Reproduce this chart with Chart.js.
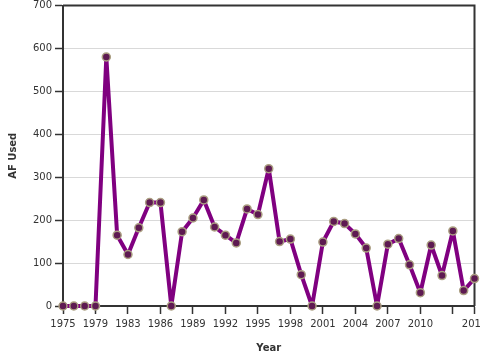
<!DOCTYPE html>
<html>
<head>
<meta charset="utf-8">
<style>
  html, body { margin: 0; padding: 0; background: #fff; overflow: hidden; }
  #wrap { width: 480px; height: 360px; }
</style>
<script src="https://cdn.jsdelivr.net/npm/chart.js@4"></script>
</head>
<body>
<div id="wrap"><canvas id="c" width="480" height="360"></canvas></div>
<script>
const years = [1975,1976,1977,1979,1980,1981,1983,1984,1985,1986,1987,1988,1989,1990,1991,1992,1993,1994,1995,1996,1997,1998,1999,2000,2001,2002,2003,2004,2005,2006,2007,2008,2009,2010,2011,2012,2013,2014,2015];
const afUsed = [0,0,0,0,580,165,120,182,241,241,0,173,205,247,184,165,147,226,213,320,150,156,73,0,149,197,192,168,135,0,144,157,96,31,142,71,175,36,64];
const xTickIdx = [0,3,6,9,12,15,18,21,24,27,30,33,36,38];
const hiddenTickIdx = [36];
const yTicks = [0,100,200,300,400,500,600,700];

const framePlugin = {
  id: 'frame',
  beforeDatasetsDraw(chart) {
    const a = chart.chartArea, ctx = chart.ctx;
    ctx.save();
    ctx.strokeStyle = '#333';
    ctx.lineWidth = 2;
    ctx.beginPath();
    ctx.moveTo(a.left, a.top);
    ctx.lineTo(a.right, a.top);
    ctx.lineTo(a.right, a.bottom);
    ctx.stroke();
    ctx.restore();
  }
};

new Chart(document.getElementById('c'), {
  type: 'line',
  data: {
    datasets: [{
      data: afUsed.map((v, i) => ({ x: i, y: v })),
      borderColor: '#800080',
      borderWidth: 4,
      borderJoinStyle: 'round',
      borderCapStyle: 'round',
      pointRadius: 4,
      pointBorderWidth: 1.5,
      pointBackgroundColor: '#5e1a52',
      pointBorderColor: '#ab9f82',
      tension: 0,
      clip: false
    }]
  },
  options: {
    responsive: false,
    animation: false,
    events: [],
    layout: { padding: { top: 4, right: 5, left: 0, bottom: 0 } },
    plugins: { legend: { display: false }, tooltip: { enabled: false } },
    scales: {
      x: {
        type: 'linear',
        min: 0, max: 38,
        afterBuildTicks(s) { s.ticks = xTickIdx.map(v => ({ value: v })); },
        afterFit(s) { s.height = 54; s.paddingRight = 0; s.paddingLeft = 0; },
        ticks: {
          autoSkip: false, maxRotation: 0, padding: 4,
          color: '#333',
          font: { family: 'DejaVu Sans', size: 10 },
          callback: (v) => hiddenTickIdx.includes(v) ? '' : String(years[v])
        },
        grid: { drawOnChartArea: false, tickLength: 8, tickColor: '#333', tickWidth: 1.5 },
        border: { color: '#333', width: 2 },
        title: {
          display: true, text: 'Year', color: '#333',
          font: { family: 'DejaVu Sans', size: 10, weight: 'bold' },
          padding: { top: 4, bottom: 6 }
        }
      },
      y: {
        min: 0, max: 700,
        afterBuildTicks(s) { s.ticks = yTicks.map(v => ({ value: v })); },
        afterFit(s) { s.width = 63; s.paddingTop = 0; s.paddingBottom = 0; },
        ticks: {
          padding: 3, color: '#333',
          font: { family: 'DejaVu Sans', size: 10 }
        },
        grid: { color: '#d9d9d9', tickLength: 8, tickColor: '#333', tickWidth: 1.5 },
        border: { color: '#333', width: 2 },
        title: {
          display: true, text: 'AF Used', color: '#333',
          font: { family: 'DejaVu Sans', size: 10, weight: 'bold' },
          padding: { top: 7, bottom: 3 }
        }
      }
    }
  },
  plugins: [framePlugin]
});
</script>
</body>
</html>
